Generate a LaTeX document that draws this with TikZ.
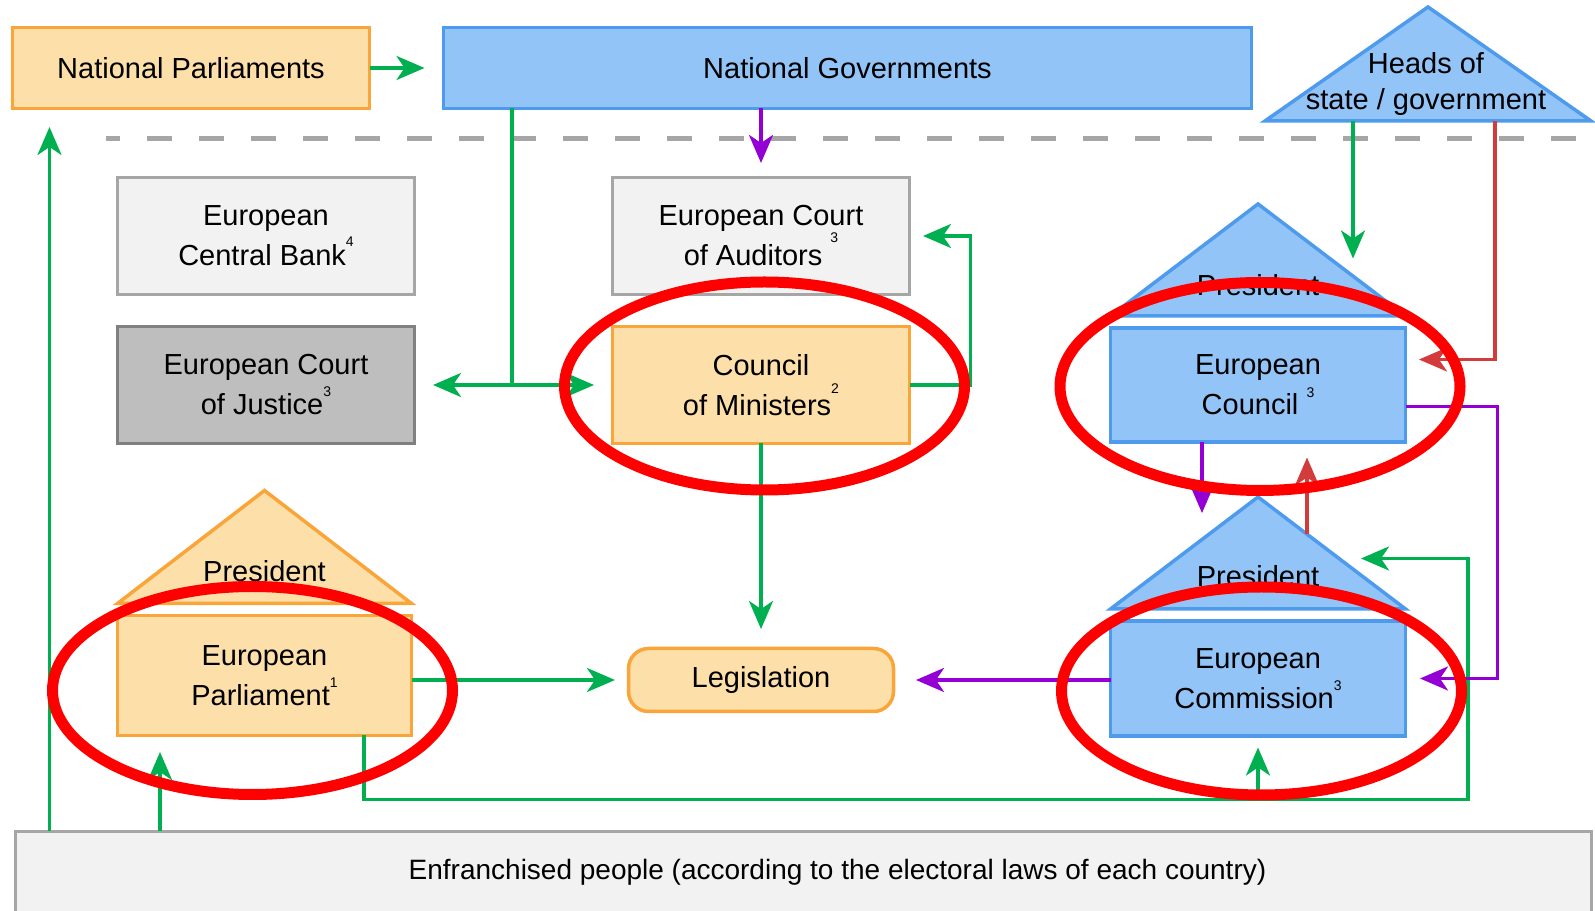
\documentclass[tikz,border=0pt]{standalone}
\usepackage{fontspec}
\setmainfont{Liberation Sans}
\usetikzlibrary{positioning}
\usetikzlibrary{arrows.meta}

\definecolor{orangefill}{HTML}{FDE0A9}
\definecolor{orangeline}{HTML}{F9A53A}
\definecolor{bluefill}{HTML}{92C4F7}
\definecolor{blueline}{HTML}{4E9BEE}
\definecolor{lightgrey}{HTML}{F2F2F2}
\definecolor{midgrey}{HTML}{BEBEBE}
\definecolor{greyline}{HTML}{A6A6A6}
\definecolor{darkgreyline}{HTML}{808080}
\definecolor{votegreen}{HTML}{00B050}
\definecolor{proposepurple}{HTML}{9400D3}
\definecolor{firered}{HTML}{D23C3C}

\newcommand{\supnum}[2][0.65em]{\raisebox{#1}{\fontsize{14}{14}\selectfont #2}}

\begin{document}
\begin{tikzpicture}
		[x=1pt, y=1pt, font=\fontsize{29}{40}\selectfont,
		box/.style={draw, line width=3.5pt, outer sep=0pt, align=center, inner sep=0pt, minimum width=297pt, minimum height=117pt},
		orangebox/.style={box, fill=orangefill, draw=orangeline},
		bluebox/.style={box, fill=bluefill, draw=blueline},
		palebox/.style={box, fill=lightgrey, draw=greyline},
		greybox/.style={box, fill=midgrey, draw=darkgreyline},
		orangeroof/.style={fill=orangefill, draw=orangeline, line width=3.5pt},
		blueroof/.style={fill=bluefill, draw=blueline, line width=3.5pt},
		bighead/.style={-{Stealth[length=28pt, width=24pt, inset=8pt]}},
		greenline/.style={draw=votegreen, line width=3.5pt},
		greenarrow/.style={greenline, bighead},
		purplearrow/.style={draw=proposepurple, line width=3.5pt, bighead},
		redarrow/.style={draw=firered, line width=3.5pt, bighead},
		divider/.style={draw=greyline, line width=5pt, dash pattern=on 25pt off 27pt, dash phase=11pt},
		ring/.style={draw=red, line width=11pt},
		node distance=32pt]
		\useasboundingbox (0,0) rectangle (1595,910);

		% national level
		\node[orangebox, minimum width=357pt, minimum height=81pt] (natparl) at (191,842) {National Parliaments};
		\node[bluebox, minimum width=808pt, minimum height=81pt, right=74pt of natparl] (natgov) {National Governments};
		\coordinate (heads-apex) at (1428,903);
		\coordinate (heads-left) at (1265,789);
		\coordinate (heads-right) at (1591,789);
		\draw[blueroof] (heads-left) -- (heads-apex) -- (heads-right) -- cycle;
		\node[align=center, font=\fontsize{29}{36}\selectfont] (heads) at (1426,826) {Heads of\\state / government};

		\draw[divider] (106,771) -- (1595,771);

		% EU institutions
		\node[palebox] (ecb) at (266,674) {European\\Central Bank\supnum{4}};
		\node[greybox, below=of ecb] (ecj) {European Court\\of Justice\supnum{3}};
		\node[palebox, right=198pt of ecb] (eca) {European Court\\of Auditors\ \supnum[0.8em]{3}};
		\node[orangebox, below=of eca] (com) {Council\\of Ministers\supnum[0.75em]{2}};
		\node[bluebox, minimum width=295pt, minimum height=114pt, right=201pt of com] (euco) {European\\Council\ \supnum[0.6em]{3}};
		\node[orangebox, minimum width=294pt, minimum height=120pt] (ep) at (264.5,234.5) {European\\Parliament\supnum[0.6em]{1}};
		\node[orangebox, rounded corners=20pt, minimum width=265pt, minimum height=63pt, below=205pt of com] (leg) {Legislation};
		\node[bluebox, minimum width=295pt, minimum height=115pt, below=179pt of euco] (ecomm) {European\\Commission\supnum[0.6em]{3}};
		\node[palebox, minimum width=1576pt, minimum height=81pt, font=\fontsize{28}{32}\selectfont] (people) at (803.5,38) {\hspace*{68pt}Enfranchised people (according to the electoral laws of each country)};

		% presidents
		\draw[orangeroof] ([yshift=12pt]ep.north west) -- ([yshift=125pt]ep.north) -- ([yshift=12pt]ep.north east) -- cycle;
		\node (ep-pres) at ([yshift=44pt]ep.north) {President};
		\draw[blueroof] ([yshift=12pt]euco.north west) -- ([yshift=124pt]euco.north) -- ([yshift=12pt]euco.north east) -- cycle;
		\node (euco-pres) at ([yshift=43pt]euco.north) {President};
		\coordinate (comm-apex) at ([yshift=124pt]ecomm.north);
		\draw[blueroof] ([yshift=12pt]ecomm.north west) -- (comm-apex) -- ([yshift=12pt]ecomm.north east) -- cycle;
		\node (comm-pres) at ([yshift=45pt]ecomm.north) {President};

		% helper points
		\coordinate (np-lane) at ([xshift=37pt]natparl.south west);
		\coordinate (gov-lane) at ([xshift=68.5pt]natgov.south west);
		\coordinate (split) at (gov-lane |- com.west);
		\coordinate (ep-lane) at ([xshift=42.5pt]ep.south west);
		\coordinate (ep-out) at ([xshift=246.5pt]ep.south west);
		\coordinate (vote-corner) at ([shift={(62.5pt,-63.5pt)}]ecomm.south east);
		\coordinate (comm-pres-in) at ([shift={(-44.5pt,62.5pt)}]ecomm.north east);
		\coordinate (comm-pres-left) at ([shift={(-56pt,-16pt)}]comm-apex);
		\coordinate (comm-pres-right) at ([shift={(49pt,-37pt)}]comm-apex);
		\coordinate (euco-pres-in) at ([shift={(-52.5pt,69.5pt)}]euco.north east);
		\coordinate (heads-green) at ([xshift=88pt]heads-left);
		\coordinate (heads-red) at ([xshift=230pt]heads-left);

		% connectors
		\draw[greenarrow, shorten >=19pt] (natparl) -- (natgov);
		\draw[greenarrow, shorten >=18.5pt] (np-lane |- people.north) -- (np-lane);
		\draw[purplearrow, shorten >=14.5pt] (natgov.south -| eca.north) -- (eca.north);
		\draw[greenline] (gov-lane) -- (split);
		\draw[greenarrow, shorten >=18.5pt] (split) -- (ecj.east);
		\draw[greenarrow, shorten >=18.5pt] (split) -- (com.west);
		\draw[greenarrow, shorten >=13.5pt] (com.east) -- ++(61,0) |- (eca.east);
		\draw[greenarrow, shorten >=19.5pt] (com) -- (leg);
		\draw[greenarrow, shorten >=13.5pt] (ep.east |- leg.west) -- (leg.west);
		\draw[purplearrow, shorten >=22.5pt] (ecomm.west |- leg.east) -- (leg.east);
		\draw[greenarrow, shorten >=16.5pt] (ep-lane |- people.north) -- (ep-lane);
		\draw[greenarrow] (ep-out) |- (vote-corner) |- (comm-pres-in);
		\draw[greenarrow, shorten >=11.5pt] (ecomm.south |- vote-corner) -- (ecomm.south);
		\draw[purplearrow] (euco.south -| comm-pres-left) -- (comm-pres-left);
		\draw[redarrow, shorten >=15.5pt] (comm-pres-right) -- (comm-pres-right |- euco.south);
		\draw[purplearrow, shorten >=14.5pt] ([yshift=-21.5pt]euco.east) -- ++(92,0) |- (ecomm.east);
		\draw[greenarrow] (heads-green) -- (heads-green |- euco-pres-in);
		\draw[redarrow, shorten >=13.5pt] (heads-red) |- ([yshift=25.5pt]euco.east);

		% highlights
		\draw[ring] ([shift={(3.5pt,-1pt)}]com.center) ellipse [x radius=200pt, y radius=104pt];
		\draw[ring] ([shift={(2pt,-1.5pt)}]euco.center) ellipse [x radius=200pt, y radius=104pt];
		\draw[ring] ([shift={(-12pt,-15pt)}]ep.center) ellipse [x radius=200pt, y radius=104pt];
		\draw[ring] ([shift={(3.5pt,-12.5pt)}]ecomm.center) ellipse [x radius=200pt, y radius=104pt];
	\end{tikzpicture}
\end{document}
